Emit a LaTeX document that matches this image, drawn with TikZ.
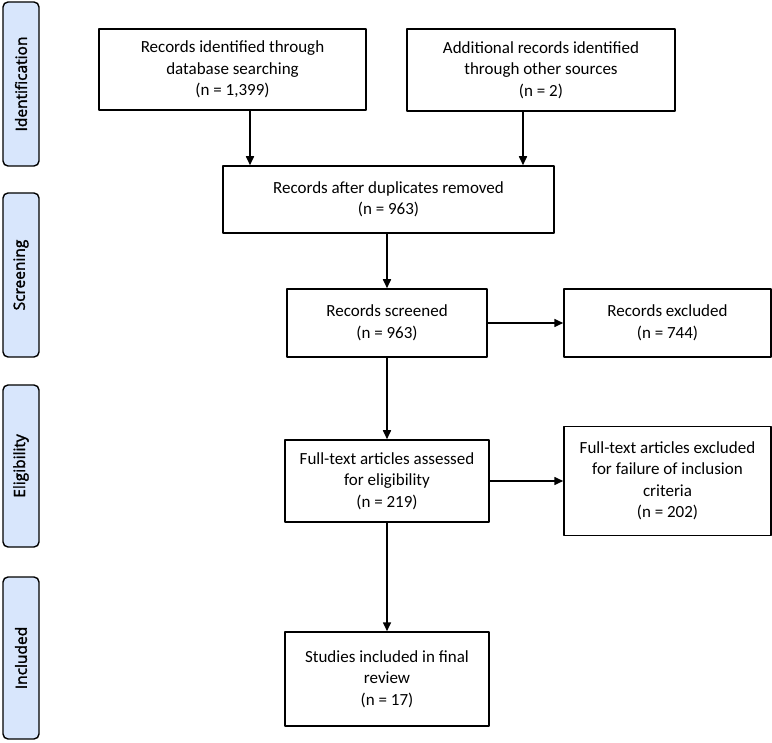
\documentclass[tikz,border=0pt]{standalone}
\usepackage{fontspec}
\setmainfont{Carlito}
\newfontfamily\sidefont[FakeBold=2]{Open Sans}
\usetikzlibrary{arrows.meta}
\definecolor{sideblue}{RGB}{216,230,252}
\tikzset{
  flowbox/.style={draw,line width=1.5pt,align=center,inner sep=2pt,
    font=\fontsize{17}{21.5}\selectfont},
  sidebox/.style={draw,line width=1.4pt,rounded corners=5pt,fill=sideblue,
    rotate=90,minimum height=36pt,inner sep=0pt,
    font=\sidefont\fontsize{15.5}{17}\selectfont}
}
\begin{document}
\begin{tikzpicture}[line cap=round,line join=round,>={Triangle[length=9pt,width=8pt]},x=1pt,y=-1pt]
\useasboundingbox (0,0) rectangle (772,743);
% phase labels
\node[sidebox,minimum width=164pt] (ident) at (21,84) {Identification};
\node[sidebox,minimum width=164pt] (screen) at (21,275) {Screening};
\node[sidebox,minimum width=162pt] (elig) at (21,466) {Eligibility};
\node[sidebox,minimum width=162pt] (incl) at (21,658) {Included};
% boxes
\node[flowbox,minimum width=267pt,minimum height=81pt] (dbsearch) at (232.5,69.5)
  {Records identified through\\database searching\\(n = 1,399)};
\node[flowbox,minimum width=268pt,minimum height=82pt] (othersrc) at (541,70)
  {Additional records identified\\through other sources\\(n = 2)};
\node[flowbox,minimum width=331pt,minimum height=67pt] (nodup) at (388.5,199.5)
  {Records after duplicates removed\\(n = 963)};
\node[flowbox,minimum width=200pt,minimum height=68pt] (screened) at (387,323)
  {Records screened\\(n = 963)};
\node[flowbox,minimum width=207pt,minimum height=68pt] (excl) at (667.5,323)
  {Records excluded\\(n = 744)};
\node[flowbox,minimum width=204pt,minimum height=82pt] (fulltext) at (387,481)
  {Full-text articles assessed\\for eligibility\\(n = 219)};
\node[flowbox,minimum width=207pt,minimum height=109pt] (ftexcl) at (667.5,481)
  {Full-text articles excluded\\for failure of inclusion\\criteria\\(n = 202)};
\node[flowbox,minimum width=204pt,minimum height=94pt] (final) at (387,679)
  {Studies included in final\\review\\(n = 17)};
% arrows
\draw[->,line width=1.6pt] (250,0 |- dbsearch.south) -- (250,0 |- nodup.north);
\draw[->,line width=1.6pt] (523,0 |- othersrc.south) -- (523,0 |- nodup.north);
\draw[->,line width=1.6pt] (screened.north |- nodup.south) -- (screened.north);
\draw[->,line width=1.6pt] (screened.east) -- (excl.west);
\draw[->,line width=1.6pt] (screened.south) -- (screened.south |- fulltext.north);
\draw[->,line width=1.6pt] (fulltext.east) -- (fulltext.east -| ftexcl.west);
\draw[->,line width=1.6pt] (fulltext.south) -- (fulltext.south |- final.north);
\end{tikzpicture}
\end{document}
